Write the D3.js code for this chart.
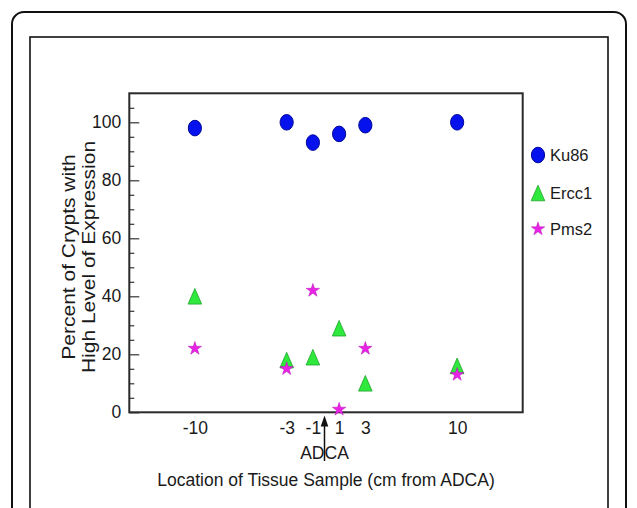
<!DOCTYPE html>
<html>
<head>
<meta charset="utf-8">
<script src="https://cdn.jsdelivr.net/npm/d3@7"></script>
<style>
    html, body { margin: 0; padding: 0; background: #fff; }
    svg { display: block; }
    text { font-family: "Liberation Sans", Arial, sans-serif; fill: #1a1a1a; }
</style>
</head>
<body>
<svg id="chart" width="637" height="508"></svg>
<script>
(function(d3) {
    'use strict';

    // distance from the adenocarcinoma, cm
    var positions = [-10, -3, -1, 1, 3, 10];
    var ku86 = [98, 100, 93, 96, 99, 100];
    var ercc1 = [40, 18, 19, 29, 10, 16];
    var pms2 = [22, 15, 42, 1, 22, 13];

    var xTickValues = [-10, -3, -1, 1, 3, 10];
    var yTickValues = [0, 20, 40, 60, 80, 100];
    var yMinorValues = [5, 10, 15, 25, 30, 35, 45, 50, 55, 65, 70, 75, 85, 90, 95, 105];
    var seriesNames = ['Ku86', 'Ercc1', 'Pms2'];
    var yTitleLines = ['Percent of Crypts with', 'High Level of Expression'];
    var adcaPosition = 0;

    var svg = d3.select('#chart');

    // outer card and inner figure border
    svg.append('rect')
        .attr('x', 12).attr('y', 12)
        .attr('width', 614).attr('height', 530)
        .attr('rx', 12).attr('ry', 12)
        .attr('fill', 'none')
        .attr('stroke', '#111')
        .attr('stroke-width', 2);

    svg.append('rect')
        .attr('x', 30).attr('y', 37)
        .attr('width', 578).attr('height', 520)
        .attr('fill', 'none')
        .attr('stroke', '#111')
        .attr('stroke-width', 1.6);

    var plot = { left: 129.3, right: 522.7, top: 93.3, bottom: 412.3 };

    var x = d3.scaleLinear()
        .domain([-15, 15])
        .range([plot.left, plot.right]);

    var y = d3.scaleLinear()
        .domain([0, 110])
        .range([plot.bottom, plot.top]);

    // plain hyphen, not the unicode minus d3 uses
    var plain = function(d) { return String(d); };

    // minor y ticks
    svg.append('g')
        .attr('transform', 'translate(' + plot.left + ',0)')
        .call(d3.axisLeft(y).tickValues(yMinorValues).tickSizeInner(-5).tickSizeOuter(0).tickFormat(''))
        .call(function(g) { g.select('.domain').remove(); })
        .selectAll('line').attr('stroke', '#333').attr('stroke-width', 1.2);

    // major y ticks
    var yAxis = svg.append('g')
        .attr('transform', 'translate(' + plot.left + ',0)')
        .call(d3.axisLeft(y).tickValues(yTickValues).tickSizeInner(-10).tickSizeOuter(0).tickPadding(8).tickFormat(plain));
    yAxis.select('.domain').remove();
    yAxis.selectAll('line').attr('stroke', '#333').attr('stroke-width', 1.2);
    yAxis.selectAll('text')
        .attr('font-size', 17.5)
        .style('font-family', '"Liberation Sans", Arial, sans-serif')
        .attr('fill', '#1a1a1a');

    var xAxis = svg.append('g')
        .attr('transform', 'translate(0,' + plot.bottom + ')')
        .call(d3.axisBottom(x).tickValues(xTickValues).tickSize(0).tickPadding(9).tickFormat(plain));
    xAxis.select('.domain').remove();
    xAxis.selectAll('text')
        .attr('font-size', 17.5)
        .style('font-family', '"Liberation Sans", Arial, sans-serif')
        .attr('fill', '#1a1a1a');

    // plot frame
    svg.append('rect')
        .attr('x', plot.left).attr('y', plot.top)
        .attr('width', plot.right - plot.left)
        .attr('height', plot.bottom - plot.top)
        .attr('fill', 'none')
        .attr('stroke', '#2a2a2a')
        .attr('stroke-width', 2);

    // markers
    var ellipse = function(sel) {
        sel.append('ellipse')
            .attr('rx', 6.6).attr('ry', 7.8)
            .attr('fill', '#0612ee')
            .attr('stroke', '#00089a')
            .attr('stroke-width', 1);
    };
    var triangle = function(sel) {
        sel.append('path')
            .attr('d', 'M0,-7.8L6.8,7.8L-6.8,7.8Z')
            .attr('fill', '#2ee83c')
            .attr('stroke', '#1fa42c')
            .attr('stroke-width', 0.8);
    };
    var star = function(sel) {
        sel.append('path')
            .attr('d', d3.symbol(d3.symbolStar, 56)())
            .attr('fill', '#ea22e6')
            .attr('stroke', '#b515b2')
            .attr('stroke-width', 0.5);
    };
    var markers = [ellipse, triangle, star];
    var seriesValues = [ku86, ercc1, pms2];

    seriesValues.forEach(function(values, i) {
        svg.append('g')
            .selectAll('g')
            .data(positions)
            .enter()
            .append('g')
            .attr('transform', function(d, j) { return 'translate(' + x(d) + ',' + y(values[j]) + ')'; })
            .each(function() { markers[i](d3.select(this)); });
    });

    // ADCA marker below the axis
    var adcaX = x(adcaPosition) - 1.5;

    svg.append('text')
        .attr('x', adcaX)
        .attr('y', 459)
        .attr('text-anchor', 'middle')
        .attr('font-size', 17.5)
        .text('ADCA');

    svg.append('line')
        .attr('x1', adcaX).attr('x2', adcaX)
        .attr('y1', 424).attr('y2', 461)
        .attr('stroke', '#111')
        .attr('stroke-width', 1.5);

    svg.append('path')
        .attr('transform', 'translate(' + adcaX + ',415.5)')
        .attr('d', 'M0,0L3.8,11L-3.8,11Z')
        .attr('fill', '#111');

    // axis titles
    svg.append('text')
        .attr('x', (plot.left + plot.right) / 2)
        .attr('y', 486)
        .attr('text-anchor', 'middle')
        .attr('font-size', 17.5)
        .text('Location of Tissue Sample (cm from ADCA)');

    // the y title is a bit taller than wide in the source figure
    var titleBaselines = [75, 95];
    yTitleLines.forEach(function(line, i) {
        svg.append('text')
            .attr('transform', 'translate(' + titleBaselines[i] + ',257) scale(0.87,1) rotate(-90)')
            .attr('text-anchor', 'middle')
            .attr('font-size', 21)
            .text(line);
    });

    // legend
    var legendY = [155, 193, 229];
    seriesNames.forEach(function(name, i) {
        var row = svg.append('g')
            .attr('transform', 'translate(538,' + legendY[i] + ')');
        markers[i](row);
        row.append('text')
            .attr('x', 12)
            .attr('y', 6)
            .attr('font-size', 16.5)
            .text(name);
    });
}(d3));
</script>
</body>
</html>
